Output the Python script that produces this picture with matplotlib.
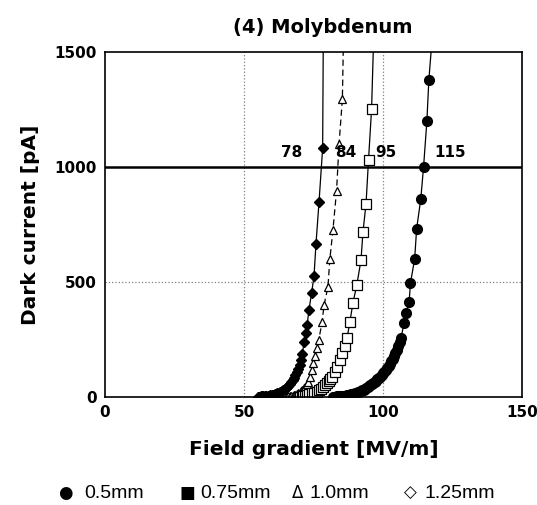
import matplotlib
matplotlib.use("Agg")
import matplotlib.pyplot as plt

# dark current vs field gradient, molybdenum, four gap widths
# 1.25 mm (filled diamonds)
d_x = [55, 55.5, 56, 56.5, 57, 57.5, 58, 58.5, 59, 59.5, 60, 60.5, 61, 61.5,
       62, 62.5, 63, 63.5, 64, 64.5, 65, 65.5, 66, 66.5, 67, 67.5, 68, 68.5,
       69, 69.5, 70, 70.5, 71, 71.6, 72.2, 72.7, 73.4, 74.3, 75.2, 75.9,
       77.0, 78.3]
d_v = [1, 1, 2, 2, 3, 3, 4, 5, 6, 7, 8, 10, 11, 13,
       15, 18, 21, 24, 28, 32, 37, 43, 49, 56, 64, 73, 83, 95,
       108, 122, 140, 160, 185, 239, 280, 313, 380, 450, 526, 665,
       848, 1083]
d_top = (78.5, 1500)

# 1.0 mm (open triangles, dashed)
t_x = [64, 64.5, 65, 65.5, 66, 66.5, 67, 67.5, 68, 68.5, 69, 69.5, 70, 70.5,
       71, 71.5, 72, 72.5, 73, 73.7, 74.3, 74.8, 75.6, 76.3, 76.9, 78.1,
       78.8, 80.2, 80.9, 82.0, 83.3, 84.2, 85.4]
t_v = [1, 1, 2, 2, 3, 4, 5, 6, 8, 10, 12, 15, 19, 24,
       30, 37, 45, 55, 66, 87, 115, 148, 180, 213, 248, 326,
       400, 478, 600, 726, 896, 1100, 1296]
t_top = (85.7, 1500)

# 0.75 mm (open squares)
s_x = [70, 70.7, 71.4, 72, 72.7, 73.5, 74.5, 75.3, 76.3, 77, 77.8, 78.5,
       79.1, 79.8, 80.5, 81.1, 81.7, 82.6, 83.5, 84.5, 85.3, 86.3, 87.1,
       88.1, 89.2, 90.6, 92.1, 92.8, 93.9, 94.8, 95.9]
s_v = [1, 2, 4, 6, 9, 12, 15, 19, 22, 28, 35, 43,
       52, 60, 68, 78, 87, 108, 130, 160, 191, 222, 257,
       326, 410, 487, 596, 717, 839, 1030, 1252]
s_top = (96.5, 1500)

# 0.5 mm (filled circles)
c_x = [82, 82.5, 83, 83.5, 84, 84.5, 85, 85.5, 86, 86.5, 87, 87.5, 88, 88.5,
       89, 89.5, 90, 90.5, 91, 91.5, 92, 92.5, 93, 93.5, 94, 94.5, 95, 95.5,
       96, 96.5, 97, 97.5, 98, 98.5, 99, 99.5, 100, 100.5, 101, 101.5, 102,
       102.5, 103, 103.5, 104, 104.5, 105, 105.5, 106, 106.5, 107.6, 108.3,
       109.4, 109.9, 111.4, 112.1, 113.6, 114.6, 115.8, 116.5]
c_v = [0, 1, 1, 2, 2, 3, 3, 4, 5, 6, 7, 8, 9, 11,
       12, 14, 16, 18, 20, 23, 26, 29, 32, 35, 38, 42, 46, 50,
       55, 60, 65, 70, 76, 82, 88, 95, 102, 110, 118, 126, 135,
       145, 155, 166, 178, 191, 205, 220, 240, 257, 322, 365,
       413, 496, 600, 730, 861, 1000, 1200, 1378]
c_top = (117.3, 1500)

cross_vals = [78, 84, 95, 115]
cross_pos = [(67.0, 1061), (86.7, 1061), (101.1, 1061), (124.1, 1061)]

legend_marks = ["\u25cf", "\u25a0", "\u0394", "\u25c7"]
legend_labels = ["0.5mm", "0.75mm", "1.0mm", "1.25mm"]
mark_x = [0.121, 0.348, 0.555, 0.765]
label_x = [0.156, 0.372, 0.577, 0.791]

fig = plt.figure(figsize=(5.37, 5.05), dpi=100)
ax = fig.add_axes([0.1955, 0.214, 0.7765, 0.683])

ax.plot(d_x + [d_top[0]], d_v + [d_top[1]], color="black", lw=0.9)
ax.plot(d_x, d_v, ls="none", marker="D", ms=5, mfc="black", mec="black")

ax.plot(t_x + [t_top[0]], t_v + [t_top[1]], color="black", lw=0.9, ls=(0, (5, 3)))
ax.plot(t_x, t_v, ls="none", marker="^", ms=6, mfc="white", mec="black", mew=0.9)

ax.plot(s_x + [s_top[0]], s_v + [s_top[1]], color="black", lw=0.9)
ax.plot(s_x, s_v, ls="none", marker="s", ms=6.5, mfc="white", mec="black", mew=0.9)

ax.plot(c_x + [c_top[0]], c_v + [c_top[1]], color="black", lw=0.9)
ax.plot(c_x, c_v, ls="none", marker="o", ms=7, mfc="black", mec="black")

ax.axhline(1000, color="black", lw=1.8, zorder=1)
for gx in [50, 100]:
    ax.axvline(gx, color="0.5", lw=0.9, ls=":", zorder=0)
ax.axhline(500, color="0.5", lw=0.9, ls=":", zorder=0)

for v, (px, py) in zip(cross_vals, cross_pos):
    ax.text(px, py, str(v), ha="center", va="center", fontsize=11, fontweight="bold")

ax.set_xlim(0, 150)
ax.set_ylim(0, 1500)
ax.set_xticks([0, 50, 100, 150])
ax.set_yticks([0, 500, 1000, 1500])
ax.tick_params(length=0, labelsize=11, pad=6)
for lab in ax.get_xticklabels() + ax.get_yticklabels():
    lab.set_fontweight("bold")
for sp in ax.spines.values():
    sp.set_linewidth(1.2)

ax.set_xlabel("Field gradient [MV/m]", fontsize=14.5, fontweight="bold", labelpad=14)
ax.set_ylabel("Dark current [pA]", fontsize=14.5, fontweight="bold", labelpad=10)
fig.text(0.6015, 0.9465, "(4) Molybdenum", fontsize=14, fontweight="bold",
         ha="center", va="center")

for m, mx in zip(legend_marks, mark_x):
    fig.text(mx, 0.024, m, fontsize=12, family="DejaVu Sans", ha="center", va="center")
for t, lx in zip(legend_labels, label_x):
    fig.text(lx, 0.022, t, fontsize=14, family=["Liberation Sans", "DejaVu Sans"],
             ha="left", va="center")

fig.savefig("out.png", dpi=100)
